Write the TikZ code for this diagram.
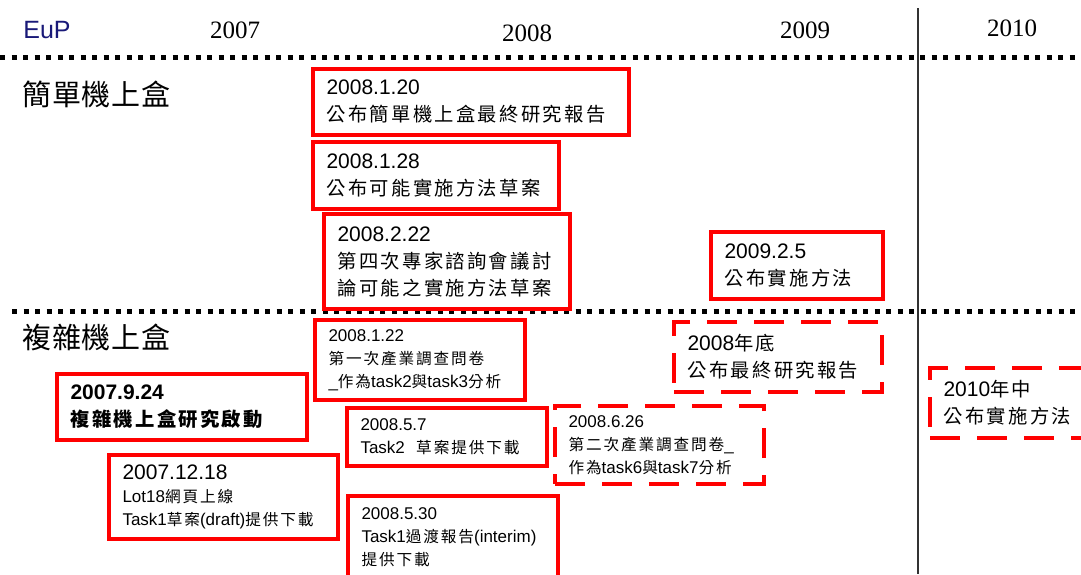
\documentclass[tikz,border=0pt]{standalone}
\usepackage{fontspec}
\setmainfont{Liberation Sans}
\newfontfamily\yearfont{Liberation Serif}
\newfontfamily\cj[Scale=0.92,LetterSpace=12]{Noto Sans CJK TC}
\newfontfamily\cjhead[LetterSpace=3]{Noto Sans CJK TC}
\newcommand\zh[1]{{\cj #1}}
\definecolor{evred}{RGB}{255,0,0}
\definecolor{eupblue}{RGB}{25,25,120}
\definecolor{rulegray}{RGB}{50,50,50}

\tikzset{
  evt/.style={draw=evred, line width=4pt, rectangle, anchor=north west,
    inner xsep=13.5pt, inner ysep=0pt, align=left},
  plan/.style={evt, dash pattern=on 30pt off 17pt},
  big/.style={font=\fontsize{21}{27}\selectfont},
  bigbold/.style={font=\fontsize{21}{27}\selectfont\bfseries},
  small/.style={font=\fontsize{17}{23}\selectfont},
  year/.style={font=\yearfont\fontsize{25}{25}\selectfont},
  heading/.style={font=\cjhead\fontsize{29}{29}\selectfont, anchor=west, inner sep=0pt},
  dotline/.style={line width=5pt, dash pattern=on 5pt off 6.5pt},
}

\begin{document}
\begin{tikzpicture}[x=1pt, y=-1pt]
\clip (0,0) rectangle (1081,574);

% header row
\node[font=\fontsize{25}{25}\selectfont, text=eupblue] (eup) at (47,30) {EuP};
\node[year] (y2007) at (235,30) {2007};
\node[year] (y2008) at (527,33) {2008};
\node[year] (y2009) at (805,30) {2009};
\node[year] (y2010) at (1012,28) {2010};

% separators
\draw[dotline] (0,57) -- (1081,57);
\draw[dotline] (12,311) -- (1081,311);
\draw[rulegray, line width=2pt] (918,8) -- (918,574);

% row headings
\node[heading] (simple) at (22,94) {簡單機上盒};
\node[heading] (complex) at (22,337) {複雜機上盒};

% simple set-top box milestones
\node[evt, big, text width=289pt, minimum height=66pt] (b1) at (311,67)
  {2008.1.20\\\zh{公布簡單機上盒最終研究報告}};
\node[evt, big, text width=219pt, minimum height=67pt] (b2) at (311,140)
  {2008.1.28\\\zh{公布可能實施方法草案}};
\node[evt, big, text width=219pt, minimum height=95pt] (b3) at (322,212)
  {2008.2.22\\\zh{第四次專家諮詢會議討}\\\zh{論可能之實施方法草案}};
\node[evt, big, text width=145pt, minimum height=67pt] (b4) at (709,230)
  {2009.2.5\\\zh{公布實施方法}};

% complex set-top box milestones
\node[evt, small, text width=183pt, minimum height=80pt] (b5) at (313,318)
  {2008.1.22\\\zh{第一次產業調查問卷}\\\_\zh{作為}task2\zh{與}task3\zh{分析}};
\node[evt, bigbold, text width=223pt, minimum height=66pt] (b6) at (55,372)
  {2007.9.24\\\zh{複雜機上盒研究啟動}};
\node[evt, small, text width=173pt, minimum height=58pt] (b7) at (345,406)
  {2008.5.7\\Task2\ \ \zh{草案提供下載}};
\node[plan, small, text width=182pt, minimum height=78pt] (b8) at (553,404)
  {2008.6.26\\\zh{第二次產業調查問卷}\_\\\zh{作為}task6\zh{與}task7\zh{分析}};
\node[evt, small, text width=202pt, minimum height=84pt] (b9) at (107,453)
  {{\fontsize{21}{23}\selectfont 2007.12.18}\\Lot18\zh{網頁上線}\\Task1\zh{草案}(draft)\zh{提供下載}};
\node[evt, small, text width=183pt, minimum height=82pt] (b10) at (346,494)
  {2008.5.30\\Task1\zh{過渡報告}(interim)\\\zh{提供下載}};
\node[plan, big, text width=181pt, minimum height=70pt] (b11) at (672,320)
  {2008\zh{年底}\\\zh{公布最終研究報告}};
\node[plan, big, text width=135pt, minimum height=70pt] (b12) at (928,366)
  {2010\zh{年中}\\\zh{公布實施方法}};
\end{tikzpicture}
\end{document}
